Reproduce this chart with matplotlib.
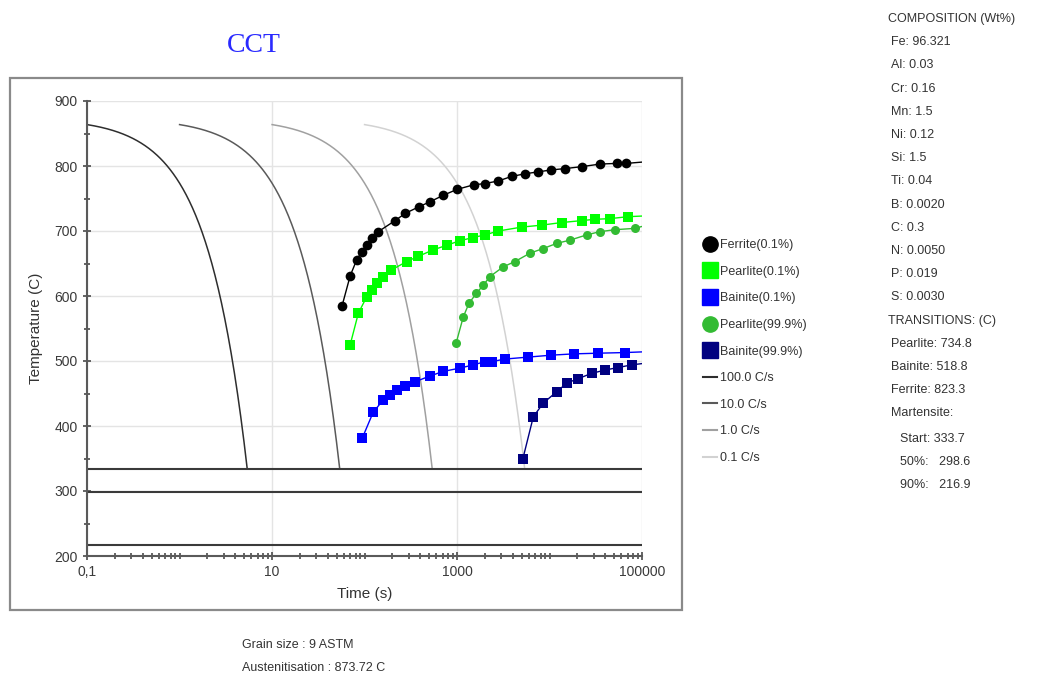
import numpy as np
import matplotlib.pyplot as plt
from matplotlib.lines import Line2D
from matplotlib.patches import Rectangle

plt.rcParams['font.family'] = ['Liberation Sans', 'DejaVu Sans']

# cooling curves (constant rate, from austenitisation down to Ms)
rates = [100.0, 10.0, 1.0, 0.1]
rate_labels = ['100.0 C/s', '10.0 C/s', '1.0 C/s', '0.1 C/s']
rate_colors = ['#2e2e2e', '#5a5a5a', '#a0a0a0', '#d2d2d2']
austenitisation = 873.72
curve_start = 863.7
ms_start, ms_50, ms_90 = 333.7, 298.6, 216.9

# transformation start curves
ferrite_t = [57, 70, 82, 93, 106, 120, 141, 214, 275, 384, 511, 712, 1000, 1510, 2000,
             2800, 3900, 5430, 7540, 10500, 14700, 22300, 35300, 53600, 67800, 100000]
ferrite_T = [584, 631, 655, 668, 678, 689, 699, 716, 727, 737, 745, 755, 764, 771, 773,
             777, 784, 788, 791, 794, 796, 799, 803, 804, 804, 806]

pearlite_t = [70, 86, 106, 120, 135, 159, 195, 286, 381, 553, 773, 1070, 1500, 2000,
              2800, 5000, 8220, 13500, 22300, 31000, 45000, 70000, 100000]
pearlite_T = [525, 574, 599, 609, 620, 630, 640, 653, 661, 671, 678, 685, 690, 694,
              700, 706, 709, 713, 716, 718, 719, 722, 723]

bainite_t = [95, 124, 159, 189, 223, 275, 352, 511, 712, 1070, 1500, 2000, 2370, 3300,
             5870, 10500, 18500, 33600, 66000, 100000]
bainite_T = [382, 421, 440, 448, 455, 462, 468, 477, 484, 489, 494, 499, 499, 503,
             506, 509, 511, 512, 513, 514]

pearlite99_t = [980, 1170, 1350, 1620, 1930, 2275, 3170, 4230, 6170, 8530, 12000, 16700,
                25200, 35100, 51000, 83000, 100000]
pearlite99_T = [528, 568, 589, 604, 617, 630, 645, 653, 666, 673, 681, 686,
                694, 699, 702, 704, 707]

bainite99_t = [5140, 6680, 8530, 12000, 15400, 20500, 28600, 39600, 55300, 77000, 100000]
bainite99_T = [349, 414, 435, 453, 466, 473, 481, 486, 490, 494, 496]

composition = ['Fe: 96.321', 'Al: 0.03', 'Cr: 0.16', 'Mn: 1.5', 'Ni: 0.12', 'Si: 1.5',
               'Ti: 0.04', 'B: 0.0020', 'C: 0.3', 'N: 0.0050', 'P: 0.019', 'S: 0.0030']
transitions = ['Pearlite: 734.8', 'Bainite: 518.8', 'Ferrite: 823.3', 'Martensite:']
martensite = ['Start: 333.7', '50%:   298.6', '90%:   216.9']

fig = plt.figure(figsize=(10.62, 6.77), dpi=100)
ax = fig.add_axes([87 / 1062, 121 / 677, 555 / 1062, 455 / 677])

# outer frame
fig.add_artist(Rectangle((10 / 1062, 67 / 677), 672 / 1062, 532 / 677, transform=fig.transFigure,
                         fill=False, edgecolor='#8a8a8a', linewidth=1.6))

for rate, col in zip(rates, rate_colors):
    t0 = (austenitisation - curve_start) / rate
    t1 = (austenitisation - ms_start) / rate
    t = np.geomspace(t0, t1, 200)
    ax.plot(t, austenitisation - rate * t, color=col, lw=1.1, zorder=2)

for temp in (ms_start, ms_50, ms_90):
    ax.axhline(temp, color='#3a3a3a', lw=1.5, zorder=2)

series = [
    (ferrite_t, ferrite_T, 'o', '#000000', 7),
    (pearlite_t, pearlite_T, 's', '#00ff00', 6.5),
    (bainite_t, bainite_T, 's', '#0000ff', 6.5),
    (pearlite99_t, pearlite99_T, 'o', '#33bb33', 6.5),
    (bainite99_t, bainite99_T, 's', '#000080', 6.5),
]
for t, T, mk, col, ms in series:
    ax.plot(t, T, color=col, lw=1, marker=mk, markersize=ms, markevery=slice(0, len(t) - 1),
            markeredgewidth=0, zorder=3)

ax.set_xscale('log')
ax.set_xlim(0.1, 100000)
ax.set_ylim(200, 900)
ax.set_xticks([0.1, 10, 1000, 100000])
ax.set_xticklabels(['0,1', '10', '1000', '100000'])
ax.xaxis.set_minor_locator(plt.matplotlib.ticker.LogLocator(base=10, subs=np.arange(1, 10), numticks=50))
ax.xaxis.set_minor_formatter(plt.NullFormatter())
ax.set_yticks(np.arange(200, 901, 100))
ax.set_yticks(np.arange(250, 900, 100), minor=True)
ax.grid(True, which='major', color='#e4e4e4', lw=1, zorder=0)
for s in ('top', 'right'):
    ax.spines[s].set_visible(False)
for s in ('left', 'bottom'):
    ax.spines[s].set_color('#5a5a5a')
    ax.spines[s].set_linewidth(1.5)
ax.tick_params(which='both', direction='inout', color='#4a4a4a', labelcolor='#3a3a3a', labelsize=10)
ax.tick_params(which='major', length=6, width=1.2)
ax.tick_params(which='minor', length=4, width=1.2)
ax.set_xlabel('Time (s)', fontsize=11, color='#333333', labelpad=6)
ax.set_ylabel('Temperature (C)', fontsize=11, color='#333333', labelpad=8)

fig.text(254 / 1062, 1 - 46 / 677, 'CCT', ha='center', va='center', color='#2a2aff',
         fontsize=20, family=['Liberation Serif', 'DejaVu Serif'])

handles = [
    Line2D([], [], ls='none', marker='o', color='#000000', markersize=11),
    Line2D([], [], ls='none', marker='s', color='#00ff00', markersize=11),
    Line2D([], [], ls='none', marker='s', color='#0000ff', markersize=11),
    Line2D([], [], ls='none', marker='o', color='#33bb33', markersize=11),
    Line2D([], [], ls='none', marker='s', color='#000080', markersize=11),
] + [Line2D([], [], color=c, lw=1.5) for c in rate_colors]
labels = ['Ferrite(0.1%)', 'Pearlite(0.1%)', 'Bainite(0.1%)', 'Pearlite(99.9%)',
          'Bainite(99.9%)'] + rate_labels
fig.legend(handles, labels, loc='upper left', bbox_to_anchor=(703 / 1062, 1 - 239 / 677),
           frameon=False, fontsize=9, handlelength=1.1, handletextpad=0.25,
           labelspacing=1.17, borderpad=0, borderaxespad=0, labelcolor='#333333')

y = 1 - 19 / 677
step = 23.2 / 677
fig.text(888 / 1062, y, 'COMPOSITION (Wt%)', fontsize=9, color='#333333', va='center')
lines = composition + ['TRANSITIONS: (C)'] + transitions
for i, s in enumerate(lines):
    x = 888 if s.startswith('TRANSITIONS') else 891
    fig.text(x / 1062, y - (i + 1) * step, s, fontsize=9, color='#333333', va='center')
for j, s in enumerate(martensite):
    fig.text(900 / 1062, y - (len(lines) + 1 + j) * step - 2 / 677, s, fontsize=9,
             color='#333333', va='center')

fig.text(242 / 1062, 1 - 645 / 677, 'Grain size : 9 ASTM', fontsize=9, color='#333333', va='center')
fig.text(242 / 1062, 1 - 668 / 677, 'Austenitisation : 873.72 C', fontsize=9, color='#333333',
         va='center')

fig.savefig('out.png', dpi=100)
